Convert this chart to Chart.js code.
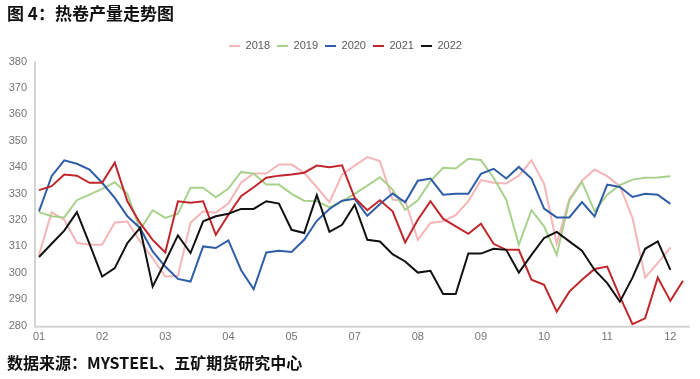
<!DOCTYPE html>
<html>
<head>
<meta charset="utf-8">
<script src="https://cdn.jsdelivr.net/npm/chart.js@4.4.0/dist/chart.umd.min.js"></script>
<style>
html,body{margin:0;padding:0;background:#fff;width:700px;height:379px;overflow:hidden;}
#wrap{position:relative;width:700px;height:379px;}
#c{position:absolute;left:0;top:0;}
.title{position:absolute;left:7px;top:2px;font-family:"Noto Sans CJK SC",sans-serif;font-weight:bold;font-size:17px;line-height:22px;color:#111;white-space:nowrap;}
.src{position:absolute;left:7px;top:351px;font-family:"Noto Sans CJK SC",sans-serif;font-weight:bold;font-size:16px;line-height:22px;color:#111;white-space:nowrap;}
</style>
</head>
<body>
<div id="wrap">
<canvas id="c" width="700" height="379"></canvas>
<div class="title">图 4：热卷产量走势图</div>
<div class="src">数据来源：MYSTEEL、五矿期货研究中心</div>
</div>
<script>
// weekly categories (month of each week)
const weeks = [
 "01","01","01","01",
 "02","02","02","02",
 "03","03","03","03",
 "04","04","04","04","04",
 "05","05","05","05",
 "06","06","06","06",
 "07","07","07","07","07",
 "08","08","08","08",
 "09","09","09","09","09",
 "10","10","10","10",
 "11","11","11","11",
 "12","12","12","12","12"
];
const seriesNames = ["2018","2019","2020","2021","2022"];
const y2018 = [306.8,322.9,320.1,311.4,310.6,310.6,319.1,319.4,311.9,305.6,298.6,298.8,319.0,323.3,322.8,326.2,334.1,337.6,337.6,341.0,341.0,337.9,332.4,326.8,337.2,340.6,343.8,342.3,327.7,327.3,312.5,318.9,319.5,321.8,327.1,335.1,334.1,333.8,336.8,342.6,333.7,311.0,328.0,334.9,339.1,336.6,332.8,320.8,298.2,303.7,309.6];
const y2019 = [323.0,321.4,321.0,327.5,329.6,331.8,334.3,329.9,316.3,323.7,320.8,322.4,332.2,332.2,328.6,331.9,338.2,337.5,333.4,333.4,329.9,327.3,327.1,324.8,327.1,329.9,333.0,336.2,331.5,323.9,327.5,334.7,339.8,339.5,343.2,342.7,336.0,327.7,310.6,323.7,317.6,306.8,327.3,334.4,323.3,329.6,333.2,335.3,336.0,336.1,336.6];
const y2020 = [323.3,336.6,342.6,341.3,339.1,334.1,328.4,321.4,317.0,308.1,302.4,297.7,296.7,310.0,309.4,312.3,301.1,293.8,307.7,308.4,307.9,312.5,319.7,324.2,327.3,328.0,321.6,326.1,330.0,326.7,334.9,335.7,329.6,329.9,329.9,337.5,339.4,335.7,340.1,335.7,324.3,321.0,321.0,326.8,321.4,333.4,332.5,328.7,329.9,329.6,326.1];
const y2021 = [331.3,332.8,337.2,336.8,334.1,334.1,341.7,327.1,318.9,312.5,307.7,327.1,326.5,327.1,314.4,322.0,329.0,332.4,336.0,336.8,337.2,337.9,340.6,340.0,340.7,328.4,323.7,327.5,323.3,311.5,320.1,327.1,320.5,317.6,314.8,318.6,311.0,308.7,308.7,297.4,295.5,285.3,292.9,297.4,301.5,302.4,291.0,280.6,282.8,298.2,289.4,297.0];
const y2022 = [306.0,311.0,316.0,323.0,311.0,298.6,301.8,311.3,317.0,294.8,304.3,314.2,307.5,319.5,321.4,322.4,324.2,324.2,327.1,326.2,316.3,315.1,329.4,315.5,318.2,325.8,312.5,311.9,307.1,304.3,300.1,300.8,292.0,292.0,307.3,307.3,309.1,308.7,300.1,306.8,313.2,315.5,311.9,308.4,301.1,296.1,289.1,298.2,309.1,311.9,301.1];
const yMin = 280, yMax = 380, yStep = 10;

const colors = ["#F4B6B8","#A9D18E","#2F5DA8","#C0272D","#111111"];
const allData = [y2018,y2019,y2020,y2021,y2022];

const axisLines = {
  id:'axisLines',
  beforeDatasetsDraw(chart){
    const {ctx, chartArea:a} = chart;
    ctx.save();
    ctx.strokeStyle = '#D4D4D4';
    ctx.lineWidth = 2;
    ctx.beginPath();
    ctx.moveTo(a.left-4, a.top);
    ctx.lineTo(a.left-4, a.bottom+1);
    ctx.lineTo(a.right+7, a.bottom+1);
    ctx.stroke();
    ctx.restore();
  }
};

new Chart(document.getElementById('c'), {
  type:'line',
  data:{
    labels: weeks,
    datasets: seriesNames.map((n,i)=>({
      label:n,
      data:allData[i],
      borderColor:colors[i],
      backgroundColor:colors[i],
      borderWidth:2,
      pointRadius:0,
      pointHoverRadius:0,
      tension:0,
      fill:false,
      order:5-i
    }))
  },
  options:{
    responsive:false,
    animation:false,
    devicePixelRatio:1,
    layout:{padding:{left:8,right:17,top:33.5,bottom:33.3}},
    plugins:{
      legend:{
        display:true,
        position:'top',
        labels:{
          usePointStyle:true,
          pointStyle:'line',
          pointStyleWidth:11,
          padding:7,
          color:'#595959',
          font:{family:'"Liberation Sans", Arial, sans-serif',size:11},
          sort:(a,b)=>a.datasetIndex-b.datasetIndex
        }
      },
      tooltip:{enabled:false}
    },
    scales:{
      x:{
        type:'category',
        offset:false,
        grid:{display:false,drawTicks:false},
        border:{display:false},
        afterFit(s){ s.height = 20; },
        ticks:{
          autoSkip:false,
          maxRotation:0,
          padding:5,
          color:'#757575',
          font:{family:'"Liberation Sans", Arial, sans-serif',size:11},
          callback:function(v,idx){ return idx%5===0 ? weeks[idx] : null; }
        }
      },
      y:{
        min:yMin,max:yMax,
        grid:{display:false,drawTicks:false},
        border:{display:false},
        afterFit(s){ s.width = 31; },
        ticks:{
          stepSize:yStep,
          padding:12,
          color:'#757575',
          font:{family:'"Liberation Sans", Arial, sans-serif',size:11}
        }
      }
    }
  },
  plugins:[axisLines]
});
</script>
</body>
</html>
